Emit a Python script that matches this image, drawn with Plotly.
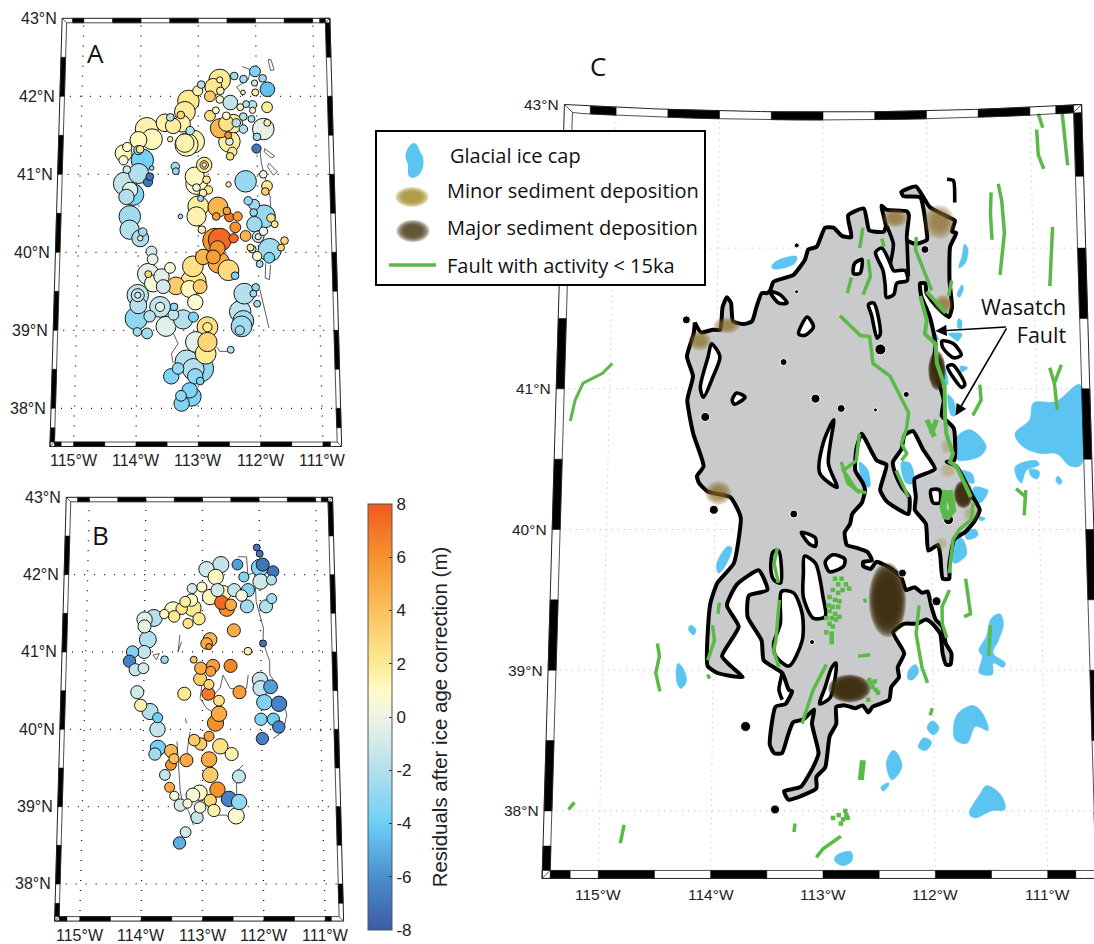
import numpy as np
import plotly.graph_objects as go

# ---------- residual points, panel A ----------
a_lon = [-112.02,-112.38,-112.22,-111.89,-112.03,-111.81,-112.02,-112.23,-112.63,-112.63,
 -112.74,-112.62,-112.80,-112.95,-113.01,-112.45,-112.63,-113.17,-113.23,-113.30,
 -113.48,-113.57,-113.43,-113.28,-111.82,-112.18,-112.07,-112.28,-112.07,-112.70,
 -112.80,-112.52,-112.23,-112.09,-112.35,-112.40,-112.63,-112.52,-112.23,-111.82,
 -111.89,-112.00,-112.49,-113.14,-113.88,-113.79,-114.02,-113.48,-113.09,-113.23,
 -113.20,-112.47,-112.47,-112.42,-112.46,-114.21,-114.27,-113.99,-112.01,-114.27,
 -113.95,-114.02,-113.39,-113.38,-113.79,-113.82,-113.85,-112.90,-112.90,-112.90,
 -111.90,-112.20,-112.49,-111.84,-111.87,-114.01,-114.21,-114.24,-114.15,-114.10,
 -114.21,-113.06,-113.03,-113.03,-112.86,-112.83,-112.92,-112.96,-112.67,-112.16,
 -112.06,-113.00,-113.03,-113.30,-112.52,-112.48,-112.34,-112.70,-111.90,-112.07,
 -111.78,-112.06,-111.72,-114.15,-112.94,-112.38,-114.15,-113.93,-111.91,-112.00,
 -112.00,-112.21,-112.41,-113.97,-113.97,-112.64,-112.72,-111.56,-112.13,-112.10,
 -111.81,-111.62,-112.68,-113.78,-112.92,-112.75,-112.66,-113.76,-112.02,-111.82,
 -113.09,-112.50,-111.98,-113.47,-113.83,-113.83,-113.61,-112.39,-113.08,-112.97,
 -113.37,-113.75,-113.15,-113.58,-112.24,-112.05,-112.09,-112.03,-113.05,-114.00,
 -114.00,-114.00,-113.63,-113.63,-113.40,-113.99,-113.80,-113.41,-112.31,-113.25,
 -113.08,-114.02,-113.53,-112.26,-112.29,-112.32,-112.85,-112.85,-114.00,-113.84,
 -112.85,-113.04,-112.88,-112.47,-113.19,-112.97,-113.08,-113.33,-113.44,-113.05,
 -112.97,-113.14,-113.11,-113.28,-113.27]
a_lat = [42.32,42.26,42.22,42.23,42.17,42.09,42.05,42.05,42.21,42.21,
 42.12,42.07,42.00,42.15,42.07,41.92,41.96,41.94,41.80,41.76,
 41.73,41.66,41.62,41.65,41.86,41.90,41.89,41.86,41.82,41.82,
 41.75,41.75,41.74,41.71,41.66,41.65,41.59,41.65,41.58,41.66,
 41.58,41.48,41.50,41.56,41.58,41.45,41.44,41.45,41.42,41.40,
 41.38,41.42,41.42,41.29,41.23,41.35,41.27,41.32,41.33,41.18,
 41.18,41.31,41.10,41.04,41.08,40.97,40.90,41.12,41.12,41.12,
 41.00,40.91,40.87,40.85,40.78,41.01,41.06,40.88,40.80,40.74,
 40.71,40.97,40.88,40.83,40.93,40.80,40.76,40.69,40.58,40.66,
 40.61,40.59,40.46,40.46,40.53,40.45,40.46,40.46,40.46,40.51,
 40.44,40.36,40.36,40.46,40.29,40.32,40.29,40.26,40.27,40.20,
 40.20,40.21,40.18,40.18,40.18,40.16,40.15,40.15,40.06,40.04,
 40.03,40.06,40.05,40.01,39.94,39.94,39.87,39.91,39.95,39.93,
 39.82,39.77,39.85,39.80,39.72,39.72,39.69,39.70,39.62,39.56,
 39.57,39.60,39.53,39.56,39.47,39.55,39.47,39.34,39.36,39.45,
 39.45,39.45,39.30,39.30,39.30,39.32,39.18,39.20,39.24,39.14,
 39.17,39.15,39.05,39.12,39.05,39.00,39.04,39.04,38.98,38.96,
 38.85,38.85,38.70,38.75,38.60,38.51,38.50,38.51,38.41,38.41,
 38.35,38.23,38.15,38.16,38.06]
a_val = [-3.5,-2.5,-2.5,-2.5,-1,-4.5,1.5,1.5,2,1,
 2.2,1.5,3.5,-2,1.5,-1.5,1,2,1.8,3,
 -2,1.5,1.8,1.5,2,-2,-2,1.5,1,1,
 2.5,1,-2,-2,-2,1.5,4.5,2.5,-2,1.5,
 -0.3,-2.5,6,-2,1.5,1.2,1.2,1.5,1.5,1.5,
 1.2,1.8,-0.5,2,2.5,0.8,1.2,2,-7,0.5,
 -3.8,-3.5,-2.5,-3,-3,-7,-7,1.8,2,1,
 0.3,-2.8,1.5,2,3.5,-2,-1,-1.5,-0.5,-3.5,
 -2,1.2,1,0.5,2,2,1.5,-3,4.5,-3,
 -2.5,1.8,1.5,-2.5,5.5,7,5.5,5.5,-2.8,-3,
 2.5,-2.5,2,-2.5,1.5,6,-2,-2.5,0,-1,
 -0.5,4.5,7.5,-2.2,0,7.5,5.8,3,2,-1.5,
 -2.5,3,6,-1,4.5,5.5,5,-0.3,1,-3.5,
 2.5,2.8,-2.5,0.5,-0.5,3,-0.5,-3.5,2.2,3.5,
 3.5,0.5,1.2,-1,-2,-3,-2.5,-2.5,0.8,-1.5,
 -1.5,-1,-1.5,-0.5,-3,-2,-2,-1.5,-1.5,-2,
 -3.5,-3,-0.5,-2.5,-2.5,-2.5,2.5,2,-2.5,-2.5,
 3,-0.3,2,-2,-1.8,-3,-2,-3,-3.5,-3,
 -3.5,-3.5,-3.5,-3,-3.5]
a_wt = [14,10,10,10,8,19,9,6,28,8,
 22,10,14,10,13,19,10,28,27,10,
 10,23,20,22,14,9,11,9,8,9,
 14,10,10,9,11,24,25,20,11,9,
 28,10,9,11,30,27,22,7,30,24,
 30,28,10,12,10,12,22,10,12,12,
 29,12,11,9,6,10,12,20,11,6,
 10,28,7,14,10,26,10,30,20,28,
 20,25,28,10,10,11,10,8,26,11,
 14,27,25,6,10,12,12,10,30,10,
 11,20,9,28,10,14,25,11,11,15,
 8,14,12,22,7,30,32,10,9,10,
 30,9,20,14,20,18,28,14,12,14,
 27,27,9,14,28,9,20,10,33,18,
 23,22,22,18,27,10,9,9,20,28,
 17,8,27,12,10,22,15,14,28,25,
 13,29,26,27,27,12,27,12,11,14,
 25,27,27,9,30,35,28,15,20,20,
 10,20,25,14,20]

# ---------- residual points, panel B ----------
b_lon = [-112.05,-112.00,-111.95,-112.00,-111.77,-112.39,-112.68,-112.93,-112.77,-112.28,
 -111.80,-111.99,-113.18,-113.01,-112.21,-112.74,-112.45,-112.87,-112.64,-112.32,
 -111.80,-113.19,-113.30,-111.90,-112.23,-112.67,-112.58,-112.51,-113.17,-113.36,
 -113.51,-113.66,-113.49,-113.84,-114.00,-114.00,-113.06,-113.25,-112.46,-113.94,
 -112.87,-112.93,-112.89,-111.96,-112.22,-114.00,-114.20,-114.25,-113.65,-113.15,
 -112.82,-112.52,-113.03,-112.86,-114.15,-114.01,-113.04,-112.02,-112.89,-111.84,
 -112.01,-112.37,-114.11,-113.31,-112.90,-112.72,-111.95,-111.70,-114.05,-113.89,
 -112.72,-113.76,-112.01,-111.80,-112.78,-111.71,-113.76,-112.89,-111.99,-113.14,
 -113.03,-112.70,-113.75,-113.80,-113.53,-113.48,-112.51,-113.27,-112.89,-113.53,
 -113.63,-112.87,-112.39,-113.55,-112.75,-113.05,-113.16,-113.47,-112.56,-112.39,
 -112.87,-113.37,-113.25,-113.04,-112.81,-112.44,-113.09,-113.28,-113.38]
b_lat = [42.35,42.27,42.13,42.09,42.04,42.13,42.13,42.07,41.97,41.97,
 41.93,41.91,41.82,41.84,41.80,41.80,41.80,41.71,41.76,41.73,
 41.69,41.67,41.65,41.59,41.59,41.64,41.56,41.61,41.57,41.56,
 41.54,41.49,41.46,41.44,41.42,41.33,41.43,41.37,41.28,41.16,
 41.16,41.11,41.07,41.11,41.01,41.00,41.00,40.88,40.90,40.90,
 40.82,40.82,40.79,40.75,40.77,40.79,40.65,40.64,40.58,40.55,
 40.53,40.48,40.48,40.46,40.46,40.37,40.35,40.33,40.31,40.23,
 40.20,40.15,40.13,40.13,40.08,40.03,40.00,39.91,39.88,39.86,
 39.81,39.78,39.76,39.68,39.72,39.62,39.68,39.60,39.61,39.54,
 39.41,39.41,39.39,39.25,39.22,39.18,39.15,39.14,39.10,39.06,
 39.08,39.02,39.04,38.99,38.95,38.88,38.86,38.67,38.53]
b_val = [-7,-7,-7,-3.5,-7,-5.5,-1.5,-1,1,-3.5,
 -2,-1,-1,1,-3.5,-1,-1.5,1.2,1.2,0.3,
 -2.5,1,1.8,-2,-2.5,7.5,6,5,2,2.2,
 1,1,2,-2,-0.5,-0.3,2,2.5,5,-2,
 4.5,5,6,-7,1.5,-1.5,-3.5,-6.5,-3,4,
 5.5,6.5,5,5.5,-1.5,-0.8,3.5,-1.5,3,-5.5,
 -1.5,5.5,-1,2,7,2.5,-3.5,-6.5,1.5,-2,
 5,-4,-3.5,-4,6,-6.5,-1.5,5.5,-6.5,3.5,
 3.5,2.5,-3.8,-2.5,4.5,4,1.5,5,5,6,
 -1.5,3.5,-1.5,5,6,1,0.5,0.5,-6.5,-3,
 3,-1,0.5,0.3,1.5,0.8,-1.5,-1,-5]
b_wt = [9,9,17,22,15,14,21,20,20,13,
 13,20,13,13,17,17,17,20,20,15,
 13,16,14,17,17,18,20,15,22,15,
 22,12,15,22,20,17,16,13,17,22,
 18,15,8,9,10,17,16,16,10,9,
 17,17,16,13,16,14,17,20,13,18,
 20,17,17,17,17,14,20,20,16,21,
 20,13,16,16,21,16,20,13,16,15,
 16,20,20,16,17,13,17,17,20,14,
 14,20,17,13,20,20,18,12,20,20,
 16,16,12,15,16,21,16,14,16]

# ---------- thin shoreline in panels A and B ----------
a_shore_lon = [[-111.79,-111.74,-111.69,-111.75,-111.79],[-111.95,-111.93,-111.88,-111.79,-111.78],
 [-111.87,-111.70,-111.76,-111.88,-111.87],[-111.80,-111.66,-111.73,-111.83,-111.80],
 [-111.88,-111.89,-111.82,-111.80],[-111.98,-111.90,-111.84],[-113.41,-113.33,-113.44,-113.41],
 [-112.70,-112.65,-112.48],[-112.24,-112.09,-112.14,-112.34,-112.23]]
a_shore_lat = [[42.47,42.47,42.34,42.33,42.47],[41.31,41.14,40.99,40.71,40.50],
 [41.33,41.23,41.21,41.29,41.33],[41.14,41.03,40.99,41.10,41.14],
 [39.86,39.67,39.65,39.84],[39.52,39.26,39.03],[38.96,38.83,38.70,38.58],
 [38.79,38.73,38.73],[42.38,42.34,42.21,42.12,42.00]]
b_shore_lon = [[-112.38,-112.23,-112.21,-112.09,-112.07,-111.95,-111.96,-111.85,-111.85,-111.76],
 [-112.22,-112.25,-112.31,-112.53,-112.65,-112.70,-112.82],[-112.99,-113.04,-112.93,-112.84],
 [-111.60,-111.57,-111.64,-111.81],[-113.43,-113.40,-113.37,-113.31],[-113.21,-113.26,-113.21],
 [-112.32,-112.43,-112.43,-112.37],[-112.52,-112.60,-112.77,-112.71],[-113.15,-113.23,-113.31],
 [-113.39,-113.42,-113.36],[-113.85,-113.74,-113.79,-113.85],[-113.29,-113.27]]
b_shore_lat = [[42.23,42.23,42.00,42.02,41.65,41.31,41.13,40.88,40.70,40.61],
 [40.70,40.53,40.51,40.53,40.70,40.53,40.44],[40.70,40.40,40.27,40.23],
 [40.27,40.19,39.97,39.88],[39.84,39.54,39.19,38.98],[39.97,39.71,39.58],
 [39.54,39.45,39.15,39.09],[38.81,38.89,38.89,38.98],[38.76,38.94,39.02],
 [41.22,41.00,41.13],[40.96,40.98,40.90,40.96],[40.14,40.08]]

# ---------- panel C: lake ----------
lake_lon = [-114.21,-114.15,-114.04,-113.97,-113.95,-113.91,-113.87,-113.85,-113.75,-113.67,-113.63,-113.58,-113.53,
 -113.50,-113.47,-113.28,-113.17,-113.14,-113.06,-112.98,-112.90,-112.82,-112.73,-112.76,-112.61,-112.56,-112.50,-112.42,
 -112.40,-112.44,-112.39,-112.20,-112.18,-112.20,-112.12,-112.01,-112.01,-112.07,-112.23,-112.25,-112.11,-111.98,-111.79,
 -111.74,-111.77,-111.73,-111.79,-111.80,-111.78,-111.81,-111.92,-112.02,-112.03,-112.08,-112.07,-111.99,-111.94,-111.96,
 -111.87,-111.89,-111.78,-111.78,-111.85,-111.76,-111.61,-111.55,-111.60,-111.69,-111.79,-111.84,-111.84,-111.90,-111.92,
 -111.94,-112.03,-112.05,-112.15,-112.14,-112.15,-111.96,-112.07,-112.16,-112.24,-112.27,-112.35,-112.33,-112.27,-112.20,
 -112.21,-112.41,-112.47,-112.41,-112.50,-112.64,-112.69,-112.70,-112.63,-112.61,-112.64,-112.73,-112.75,-112.80,-112.78,
 -112.69,-112.59,-112.55,-112.63,-112.63,-112.56,-112.51,-112.39,-112.28,-112.24,-112.16,-112.09,-112.04,-112.01,-111.97,
 -111.91,-111.88,-111.83,-111.84,-111.88,-111.91,-111.93,-112.00,-112.06,-112.14,-112.26,-112.36,-112.26,-112.32,-112.31,
 -112.38,-112.40,-112.55,-112.59,-112.64,-112.71,-112.80,-112.88,-112.88,-112.94,-112.98,-113.06,-113.06,-113.31,-113.35,
 -113.20,-113.09,-113.04,-113.10,-113.08,-113.18,-113.27,-113.32,-113.37,-113.44,-113.48,-113.43,-113.34,-113.28,-113.31,
 -113.37,-113.54,-113.56,-113.69,-113.68,-113.51,-113.59,-113.79,-113.88,-113.77,-113.92,-113.84,-113.73,-113.96,-114.05,
 -114.05,-114.03,-113.97,-113.82,-113.76,-113.80,-113.86,-114.07,-114.15,-114.17,-114.11,-114.21,-114.27,-114.22,-114.28,
 -114.22,-114.21]
lake_lat = [41.47,41.40,41.42,41.42,41.58,41.65,41.61,41.48,41.46,41.48,41.58,41.68,41.68,
 41.70,41.76,41.81,41.92,41.99,42.01,42.15,42.15,42.09,42.08,42.24,42.29,42.13,42.12,42.12,
 42.16,42.31,42.28,42.27,42.24,42.06,42.03,42.06,42.11,42.37,42.38,42.41,42.45,42.30,42.22,
 42.20,42.12,42.11,42.01,41.77,41.58,41.51,41.58,41.68,41.75,41.75,41.66,41.51,41.32,41.18,
 40.92,40.81,40.72,40.49,40.48,40.45,40.23,40.14,40.06,39.98,39.93,39.74,39.65,39.65,39.81,
 39.89,39.85,40.04,40.14,40.23,40.36,40.43,40.57,40.70,40.67,40.57,40.48,40.40,40.30,40.23,
 40.11,40.20,40.28,40.46,40.49,40.68,40.57,40.42,40.33,40.28,40.19,40.11,40.04,39.98,39.89,
 39.87,39.84,39.78,39.77,39.74,39.72,39.77,39.73,39.66,39.57,39.59,39.55,39.56,39.46,39.36,
 39.31,39.19,39.12,39.04,39.04,39.12,39.26,39.33,39.36,39.33,39.33,39.27,39.12,39.02,38.95,
 38.88,38.79,38.74,38.70,38.75,38.73,38.75,38.74,38.62,38.53,38.31,38.24,38.16,38.08,38.14,
 38.17,38.31,38.41,38.62,38.72,38.65,38.63,38.53,38.41,38.41,38.47,38.74,38.76,38.85,38.86,
 38.98,39.07,39.21,39.38,39.53,39.57,39.71,39.61,39.46,39.31,39.10,39.03,38.95,38.98,39.03,
 39.31,39.48,39.62,39.76,40.08,40.16,40.23,40.27,40.33,40.38,40.45,40.68,40.92,41.09,41.23,
 41.39,41.47]

isle_lon = [[-113.38,-113.27,-113.19,-113.19,-113.31,-113.43,-113.45,-113.39],
 [-113.17,-113.07,-113.00,-112.98,-113.09,-113.18,-113.18],
 [-113.46,-113.41,-113.39,-113.45,-113.48],
 [-112.98,-112.91,-112.80,-112.81,-112.94],
 [-113.20,-113.07,-113.07,-113.13],
 [-114.05,-113.97,-114.03,-114.12,-114.15,-114.08],
 [-113.15,-113.09,-113.17,-113.23],
 [-113.81,-113.73,-113.83,-113.85],
 [-112.57,-112.52,-112.46,-112.49,-112.54],
 [-112.90,-113.00,-113.03,-112.87,-112.95],
 [-112.70,-112.63,-112.65,-112.71],
 [-112.50,-112.44,-112.36,-112.33,-112.22,-112.20,-112.30,-112.33,-112.40,-112.41,-112.43],
 [-111.88,-111.77,-111.70,-111.77,-111.87],
 [-111.83,-111.78,-111.67,-111.70],
 [-113.50,-113.41,-113.34,-113.42],
 [-112.00,-111.92,-111.92,-111.98],
 [-113.03,-112.98,-112.92,-112.88,-112.91,-112.94]]
isle_lat = [[39.56,39.55,39.40,39.21,39.03,39.10,39.19,39.33],
 [39.81,39.76,39.52,39.38,39.37,39.52,39.69],
 [39.84,39.85,39.62,39.64,39.72],
 [39.77,39.82,39.79,39.74,39.70],
 [39.98,39.94,39.88,39.90],
 [41.32,41.23,41.09,40.94,41.01,41.23],
 [41.51,41.44,41.38,41.39],
 [40.97,40.94,40.89,40.92],
 [41.60,41.61,41.39,41.36,41.52],
 [40.78,40.61,40.40,40.30,40.47],
 [41.89,41.92,41.82,41.82],
 [41.97,42.00,41.89,41.84,41.84,41.77,41.75,41.67,41.65,41.73,41.84],
 [41.34,41.32,41.24,41.22,41.29],
 [41.16,41.17,41.03,41.01],
 [41.69,41.67,41.61,41.61],
 [40.28,40.28,40.19,40.19],
 [38.76,38.88,39.02,39.05,38.86,38.80]]

ridge_lon = [[-113.37,-113.40,-113.37],[-112.39,-112.33,-112.36],[-112.20,-112.19],[-111.81,-111.75,-111.74]]
ridge_lat = [[38.98,38.86,38.79],[42.16,42.03,41.89],[42.06,41.80],[42.50,42.49,42.33]]

dot_lon = [-114.10,-113.37,-113.07,-114.29,-113.25,-113.25,-112.83,-112.51,-112.22,-112.46,-112.03,
 -113.70,-113.43,-113.27,-113.10,-112.27,-111.96,-111.84,-114.01]
dot_lat = [40.80,41.19,40.93,41.49,42.02,41.69,40.86,40.85,40.96,41.28,41.99,
 38.60,38.01,40.11,39.20,39.69,39.49,40.07,40.14]
dot_wt = [9,7,9,8,5,4,8,4,6,11,8,10,9,8,5,8,9,10,9]

# ---------- panel C: ice caps ----------
ice_lon = [[-113.49,-113.41,-113.25,-113.27,-113.46],[-111.65,-111.62,-111.65,-111.71,-111.68],
 [-111.68,-111.67,-111.71,-111.73],[-111.72,-111.69,-111.70,-111.73],[-111.82,-111.69,-111.73,-111.79],
 [-112.01,-111.96,-111.91,-111.97],[-111.91,-111.86,-111.83,-111.87],[-111.71,-111.64,-111.70],
 [-111.83,-111.78,-111.76,-111.80],
 [-111.21,-111.07,-111.03,-110.82,-110.59,-110.60,-110.70,-110.83,-110.98,-111.14],
 [-111.21,-111.02,-110.99,-111.11,-111.16,-111.21],[-111.08,-110.99,-111.01,-111.07],
 [-110.82,-110.78,-110.81,-110.84],[-111.77,-111.63,-111.48,-111.54,-111.73,-111.77],
 [-111.75,-111.62,-111.60,-111.69],[-112.66,-112.58,-112.57,-112.63],[-112.27,-112.19,-112.16,-112.23],
 [-111.60,-111.49,-111.55,-111.61],[-111.58,-111.47,-111.54,-111.60],[-111.56,-111.50,-111.54],
 [-111.69,-111.59,-111.57,-111.67],[-111.76,-111.71,-111.68,-111.79,-111.82],
 [-113.88,-113.84,-113.90,-113.96,-113.98],[-114.21,-114.16,-114.18,-114.23],
 [-114.32,-114.27,-114.24,-114.29,-114.33],[-112.16,-112.13,-112.19,-112.23,-112.22],
 [-111.38,-111.35,-111.40,-111.45,-111.34,-111.36,-111.45,-111.46,-111.58,-111.55,-111.58,-111.51,-111.46],
 [-111.65,-111.58,-111.51,-111.51,-111.62,-111.70,-111.81,-111.79],[-112.01,-111.95,-112.00,-112.06],
 [-112.09,-112.02,-112.07,-112.14],[-112.37,-112.33,-112.29,-112.38,-112.43],[-112.41,-112.41,-112.46,-112.48],
 [-111.53,-111.40,-111.37,-111.49,-111.64,-111.69,-111.59],[-112.75,-112.74,-112.82,-112.90,-112.87]]
ice_lat = [[41.87,41.92,41.94,41.89,41.85],[42.03,41.99,41.89,41.86,41.94],
 [41.74,41.71,41.65,41.67],[41.50,41.48,41.42,41.44],[41.39,41.39,41.34,41.37],
 [41.44,41.42,41.35,41.37],[41.22,41.16,41.03,41.03],[41.16,41.15,41.12],
 [40.96,40.92,40.81,40.81],
 [40.68,40.78,40.90,40.91,41.03,40.46,40.45,40.54,40.54,40.59],
 [40.45,40.49,40.46,40.42,40.33,40.39],[40.43,40.41,40.36,40.38],
 [40.38,40.34,40.32,40.35],[40.64,40.71,40.59,40.52,40.49,40.51],
 [40.42,40.40,40.33,40.35],[40.48,40.42,40.30,40.33],[40.48,40.47,40.33,40.33],
 [40.30,40.28,40.21,40.23],[40.28,40.28,40.19,40.20],[40.09,40.08,40.06],
 [39.98,40.00,39.96,39.93],[39.95,39.93,39.82,39.76,39.81],
 [39.88,39.87,39.74,39.69,39.75],[39.32,39.29,39.25,39.29],
 [39.05,39.01,38.92,38.87,38.92],[39.04,38.99,38.93,38.94,39.00],
 [39.40,39.33,39.21,39.12,39.05,39.02,39.05,38.97,38.98,39.10,39.14,39.24,39.37],
 [38.75,38.72,38.61,38.57,38.60,38.48,38.51,38.68],[38.64,38.59,38.54,38.59],
 [38.52,38.49,38.43,38.45],[38.43,38.41,38.31,38.22,38.34],[38.20,38.18,38.14,38.17],
 [38.18,38.11,38.01,38.00,37.95,37.98,38.12],[37.71,37.65,37.61,37.65,37.69]]

# ---------- panel C: faults younger than 15 ka ----------
fault_lon = [[-110.92,-110.88],[-110.94,-110.93,-110.88],[-110.69,-110.65],[-111.39,-111.40,-111.39],
 [-111.32,-111.29,-111.27,-111.32],[-110.81,-110.85],[-110.87,-110.83],[-110.76,-110.83,-110.81],
 [-111.53,-111.52,-111.60],[-112.62,-112.65],[-112.57,-112.55,-112.62],[-112.73,-112.77],[-112.44,-112.42],
 [-112.11,-112.12,-111.97],[-111.78,-111.81],[-112.02,-111.84],
 [-112.84,-112.65,-112.56,-112.53,-112.37,-112.20,-112.22,-112.27,-112.22,-112.27],
 [-112.08,-112.02,-112.04,-111.94,-111.93,-111.86,-111.86,-111.85,-111.79,-111.82,-111.76,-111.63],
 [-112.03,-111.96],[-111.94,-111.99],[-112.66,-112.69,-112.81,-112.69,-112.60],[-112.83,-112.77,-112.66],
 [-112.32,-112.21],[-111.21,-111.12],[-111.12,-111.14],[-111.86,-111.89,-111.86,-111.80,-111.83],
 [-111.61,-111.63,-111.74,-111.80,-111.84],[-113.42,-113.45,-113.41],[-113.40,-113.43,-113.45,-113.40],
 [-113.95,-113.96],[-114.01,-113.99,-114.05],[-114.05,-114.03],[-112.97,-113.09,-113.19],
 [-111.84,-111.91,-111.91,-111.87],[-112.12,-112.15,-112.10,-112.05],[-111.69,-111.65,-111.71],
 [-111.47,-111.49],[-112.64,-112.66],[-112.01,-112.03],[-113.25,-113.26],[-112.84,-113.00,-113.06],
 [-112.60,-112.63],[-112.68,-112.57],[-114.51,-114.49,-114.52,-114.48],[-115.23,-115.28],
 [-114.78,-114.81],[-114.98,-115.07,-115.25,-115.32,-115.36]]
fault_lat = [[42.95,42.85],[42.84,42.66,42.56],[42.95,42.58],[42.40,42.25,42.06],
 [42.46,42.34,42.11,41.81],[42.15,41.73],[41.15,41.04],[41.17,41.04,40.85],
 [41.03,40.92,40.81],[42.15,42.00],[41.92,41.80,41.67],[41.79,41.68],[42.07,42.01],
 [42.08,41.99,41.70],[41.77,41.66],[41.69,41.54],
 [41.52,41.38,41.37,41.18,41.09,40.83,40.72,40.61,40.54,40.49],
 [41.66,41.49,41.39,41.32,41.18,41.02,40.80,40.68,40.54,40.48,40.45,40.23],
 [40.78,40.66],[40.78,40.68],[40.68,40.49,40.42,40.28,40.26],[40.48,40.33,40.26],
 [40.42,40.23],[40.29,40.23],[40.28,40.10],[40.28,40.16,40.08,40.14,40.28],
 [40.19,40.07,40.00,39.93,39.69],[39.87,39.76,39.62],[39.50,39.21,39.14,39.02],
 [39.48,39.40],[39.32,39.21,39.07],[38.97,38.94],[39.04,38.86,38.62],
 [39.57,39.45,39.33,39.23],[39.46,39.26,39.02,38.91],[39.65,39.40,39.38],
 [39.32,39.10],[38.36,38.22],[38.73,38.68],[37.91,37.85],[37.82,37.73,37.67],
 [39.50,39.49],[39.10,39.11],[39.19,39.10,38.98,38.85],[38.06,38.01],
 [37.90,37.77],[41.18,41.11,41.04,40.92,40.77]]
fault_wt = [3.5]*len(fault_lon)
for i,w in {15:4,17:4,18:5,19:5,25:7,37:6,41:4,46:3}.items():
    fault_wt[i] = w

# short fault traces too small to read as lines
stip_lon = [-112.89,-112.83,-112.79,-112.76,-112.86,-112.82,-112.91,-112.86,-112.94,-112.89,-112.85,-112.95,-112.91,-112.86,
 -112.94,-112.89,-112.85,-112.97,-112.92,-112.88,-112.94,-112.91,-112.97,-112.92,-112.92,-112.92,
 -112.53,-112.55,-112.52,-112.56,-112.50,-112.59,-112.58,-112.91,-112.86,-112.82,-112.79,-112.80,-112.84,-112.78]
stip_lat = [39.65,39.65,39.61,39.58,39.61,39.57,39.57,39.55,39.52,39.50,39.49,39.46,39.45,39.45,
 39.42,39.40,39.38,39.37,39.37,39.36,39.33,39.31,39.27,39.26,39.23,39.20,
 38.92,38.88,38.86,38.91,38.84,38.79,38.93,37.95,37.97,37.94,37.97,38.00,37.91,37.95]

# ---------- panel C: sediment deposition ----------
minor_lon = [-113.91,-114.16,-113.97,-112.31,-111.89,-111.86]
minor_lat = [41.45,41.34,40.26,42.22,42.19,41.60]
minor_rx = [.11,.095,.11,.11,.13,.08]
minor_ry = [.05,.06,.075,.06,.11,.06]
pale_lon = [-111.84,-111.85,-111.63,-111.91]
pale_lat = [40.42,40.59,40.11,39.90]
pale_rx = [.07,.05,.07,.06]
pale_ry = [.05,.05,.06,.04]
major_lon = [-111.93,-111.70,-112.41,-112.76]
major_lat = [41.13,40.25,39.50,38.87]
major_rx = [.07,.075,.145,.165]
major_ry = [.12,.085,.225,.085]

# ---------- labels ----------
lon_ticks = [-115,-114,-113,-112,-111]
lat_ticks = [38,39,40,41,42,43]
cbar_ticks = [-8,-6,-4,-2,0,2,4,6,8]
legend_labels = ["Glacial ice cap","Minor sediment deposition","Major sediment deposition","Fault with activity < 15ka"]
cbar_title = "Residuals after ice age correction (m)"

# ---------- projection of each map onto the page axes ----------
PANEL = {
 "A": dict(x0=198.3,dx=59.83,k=.933,y0=252.3,dy=78.0,L=-115.38,R=-110.70,B=37.51,T=43.0,w=4.5,e=.18,curve=0),
 "B": dict(x0=202.5,dx=59.0,k=.88,y0=729.3,dy=77.33,L=-115.41,R=-110.70,B=37.52,T=43.0,w=4.5,e=.2,curve=0),
 "C": dict(x0=823.,dx=108.,k=1.63,y0=529.5,dy=140.7,L=-115.5,R=-110.5,B=37.52,T=43.0,w=8,e=.25,curve=1),
}
def proj(p, lon, lat):
    lon = np.asarray(lon,float); lat = np.asarray(lat,float)
    dl = lon+113
    x = p["x0"]+dl*(p["dx"]-p["k"]*(lat-40.2))
    y = p["y0"]-(lat-40)*p["dy"]
    if p["curve"]:
        y = y+np.clip(lat-42,0,None)*(4.6-1.2*dl**2)
    return x,y

def join(xs,ys,close=False):
    X,Y=[],[]
    for a,b in zip(xs,ys):
        a,b=list(a),list(b)
        if close: a,b=a+a[:1],b+b[:1]
        X+=a+[None]; Y+=b+[None]
    return X,Y

fig = go.Figure()

def add_poly(p,lons,lats,fill=None,line=None,width=0,shape="linear",smooth=None,close=True):
    xs,ys=[],[]
    for a,b in zip(lons,lats):
        x,y=proj(p,a,b); xs.append(x.tolist()); ys.append(y.tolist())
    X,Y=join(xs,ys,close)
    ln=dict(color=line or "rgba(0,0,0,0)",width=width,shape=shape)
    if smooth: ln["smoothing"]=smooth
    fig.add_trace(go.Scatter(x=X,y=Y,mode="lines",line=ln,fill="toself" if fill else None,fillcolor=fill,hoverinfo="skip",showlegend=False,connectgaps=False))

def grid(p,color,dash,width):
    for lon in lon_ticks:
        la=np.linspace(p["B"],p["T"],30); x,y=proj(p,np.full(30,lon),la)
        fig.add_trace(go.Scatter(x=x,y=y,mode="lines",line=dict(color=color,dash=dash,width=width),hoverinfo="skip",showlegend=False))
    for lat in lat_ticks[:-1]:
        lo=np.linspace(p["L"],p["R"],30); x,y=proj(p,lo,np.full(30,lat))
        fig.add_trace(go.Scatter(x=x,y=y,mode="lines",line=dict(color=color,dash=dash,width=width),hoverinfo="skip",showlegend=False))

def frame(p):
    L,R,B,T,w,e=p["L"],p["R"],p["B"],p["T"],p["w"],p["e"]
    def band(side,a,b):
        s=np.linspace(a,b,12)
        if side=="T":
            x,y=proj(p,s,np.full(12,T)); xi,yi=x,y+w
        elif side=="Bt":
            x,y=proj(p,s,np.full(12,B)); xi,yi=x,y-w
        elif side=="L":
            x,y=proj(p,np.full(12,L),s); xi,yi=x+w,y
        else:
            x,y=proj(p,np.full(12,R),s); xi,yi=x-w,y
        return list(x)+list(xi[::-1]),list(y)+list(yi[::-1])
    segs=[]
    top=[(L+e,-115),(-114.5,-114),(-113.5,-113),(-112.5,-112),(-111.5,-111),(R-e,R)]
    bot=[(L,L+e),(-115,-114.5),(-114,-113.5),(-113,-112.5),(-112,-111.5),(-111,R-e)]
    left=[(42,42.5),(41,41.5),(40,40.5),(39,39.5),(38,38.5),(B,37.75)]
    right=[(42.5,43),(41.5,42),(40.5,41),(39.5,40),(38.5,39),(37.75,38)]
    for a,b in top: segs.append(band("T",a,b))
    for a,b in bot: segs.append(band("Bt",a,b))
    for a,b in left: segs.append(band("L",a,b))
    for a,b in right: segs.append(band("R",a,b))
    X,Y=join([s[0] for s in segs],[s[1] for s in segs],True)
    fig.add_trace(go.Scatter(x=X,y=Y,mode="lines",fill="toself",fillcolor="black",line=dict(color="black",width=.5),hoverinfo="skip",showlegend=False))
    n=30
    lo=np.linspace(L,R,n); la=np.linspace(T,B,n)
    tx,ty=proj(p,lo,np.full(n,T)); rx,ry=proj(p,np.full(n,R),la); bx,by=proj(p,lo[::-1],np.full(n,B)); lx,ly=proj(p,np.full(n,L),la[::-1])
    ox=list(tx)+list(rx)+list(bx)+list(lx); oy=list(ty)+list(ry)+list(by)+list(ly)
    fig.add_trace(go.Scatter(x=ox,y=oy,mode="lines",line=dict(color="#222",width=1),hoverinfo="skip",showlegend=False))
    # inner rim, with the short mitres at the four corners
    keep=(tx>=lx[-1]+w)&(tx<=rx[0]-w)
    ix=[lx[-1]+w]+list(tx[keep])+[rx[0]-w]+[rx[-1]-w]+list(bx[(bx<=rx[-1]-w)&(bx>=lx[0]+w)])+[lx[0]+w]+[lx[-1]+w]
    iy=[ty[0]+w]+list(ty[keep]+w)+[ty[-1]+w]+[by[0]-w]+list(by[(bx<=rx[-1]-w)&(bx>=lx[0]+w)]-w)+[by[-1]-w]+[ty[0]+w]
    fig.add_trace(go.Scatter(x=ix,y=iy,mode="lines",line=dict(color="#222",width=.8),hoverinfo="skip",showlegend=False))
    mx,my=[],[]
    for (ax,ay,bx2,by2) in [(tx[0],ty[0],tx[0]+w,ty[0]+w),(tx[-1],ty[-1],tx[-1]-w,ty[-1]+w),(rx[-1],ry[-1],rx[-1]-w,ry[-1]-w),(lx[0],ly[0],lx[0]+w,ly[0]-w)]:
        mx+=[ax,bx2,None]; my+=[ay,by2,None]
    fig.add_trace(go.Scatter(x=mx,y=my,mode="lines",line=dict(color="#222",width=.8),hoverinfo="skip",showlegend=False))

annots=[]
def labels(p,size,lats,down,gap=3):
    for lon in lon_ticks:
        x,y=proj(p,lon,p["B"])
        annots.append(dict(x=float(x),y=float(y)+down,text=f"{abs(lon)}\u00b0W",showarrow=False,xanchor="center",yanchor="middle",font=dict(size=size,family="Liberation Sans",color="#222")))
    for lat in lats:
        x,y=proj(p,p["L"],lat)
        annots.append(dict(x=float(x)-gap,y=float(y),text=f"{lat}\u00b0N",showarrow=False,xanchor="right",yanchor="middle",font=dict(size=size,family="Liberation Sans",color="#222")))

def panel_points(p,lon,lat,val,wt,shore_lon,shore_lat):
    grid(p,"#111","1px,9px",1.3)
    add_poly(p,shore_lon,shore_lat,line="#333",width=.8,close=False)
    o=np.argsort(-np.asarray(wt),kind="stable")
    x,y=proj(p,np.asarray(lon)[o],np.asarray(lat)[o])
    fig.add_trace(go.Scatter(x=x,y=y,mode="markers",hoverinfo="skip",showlegend=False,
        marker=dict(size=np.asarray(wt)[o]*.77,sizemode="diameter",color=np.asarray(val)[o],coloraxis="coloraxis",
                    line=dict(color="#1a1a1a",width=1),opacity=1)))
    frame(p)

assert len(a_lon)==len(a_lat)==len(a_val)==len(a_wt)
assert len(b_lon)==len(b_lat)==len(b_val)==len(b_wt)
assert len(stip_lon)==len(stip_lat)
panel_points(PANEL["A"],a_lon,a_lat,a_val,a_wt,a_shore_lon,a_shore_lat)
panel_points(PANEL["B"],b_lon,b_lat,b_val,b_wt,b_shore_lon,b_shore_lat)
labels(PANEL["A"],16,lat_ticks,14)
labels(PANEL["B"],16,lat_ticks,14)

# panel C
pc=PANEL["C"]
grid(pc,"#b5b5b5","1px,5px",1)
add_poly(pc,ice_lon,ice_lat,fill="#5bc4f1",line="#5bc4f1",width=.5,shape="spline",smooth=1.0)
add_poly(pc,[lake_lon],[lake_lat],fill="#c9cacb",line="black",width=4,shape="spline",smooth=.5)
add_poly(pc,isle_lon,isle_lat,fill="white",line="black",width=3.6,shape="spline",smooth=.8)
add_poly(pc,ridge_lon,ridge_lat,line="black",width=3.6,shape="spline",smooth=.6,close=False)
x,y=proj(pc,dot_lon,dot_lat)
fig.add_trace(go.Scatter(x=x,y=y,mode="markers",marker=dict(size=np.asarray(dot_wt),color="black",opacity=1),hoverinfo="skip",showlegend=False))

def blobs(lon,lat,rx,ry,rgb,alpha,levels):
    t=np.linspace(0,2*np.pi,32)
    for f in levels:
        xs,ys=[],[]
        for a,b,c,d in zip(lon,lat,rx,ry):
            px,py=proj(pc,a+f*c*np.cos(t),b+f*d*np.sin(t))
            xs.append(px.tolist()); ys.append(py.tolist())
        X,Y=join(xs,ys)
        fig.add_trace(go.Scatter(x=X,y=Y,mode="lines",fill="toself",fillcolor=f"rgba({rgb},{alpha})",line=dict(width=0,color="rgba(0,0,0,0)"),hoverinfo="skip",showlegend=False))
blobs(minor_lon,minor_lat,minor_rx,minor_ry,"140,105,35",.13,(1.15,1.08,1.0,.92,.84,.76,.68,.6,.5))
blobs(pale_lon,pale_lat,pale_rx,pale_ry,"170,135,70",.08,(1.1,1.0,.9,.8,.7,.6))
blobs(major_lon,major_lat,major_rx,major_ry,"62,46,16",.3,(1.18,1.13,1.08,1.03,.98,.93,.88,.82,.75,.65))

for a,b,w in zip(fault_lon,fault_lat,fault_wt):
    x,y=proj(pc,a,b)
    fig.add_trace(go.Scatter(x=x,y=y,mode="lines",line=dict(color="#5ab947",width=w),hoverinfo="skip",showlegend=False))
x,y=proj(pc,stip_lon,stip_lat)
fig.add_trace(go.Scatter(x=x,y=y,mode="markers",marker=dict(symbol="square",size=4.5,color="#5ab947",opacity=1),hoverinfo="skip",showlegend=False))
frame(pc)
labels(pc,15.5,[38,39,40,41,43],16)

# Wasatch Fault arrows
tx_,ty_=proj(pc,-111.26,41.44)
for hlon,hlat in [(-111.94,41.41),(-111.76,40.81)]:
    hx,hy=proj(pc,hlon,hlat)
    annots.append(dict(x=float(hx),y=float(hy),ax=float(tx_),ay=float(ty_),axref="x",ayref="y",xref="x",yref="y",text="",showarrow=True,arrowhead=2,arrowsize=1.4,arrowwidth=1.6,arrowcolor="black"))
annots.append(dict(x=1068,y=320,text="Wasatch<br>Fault",align="right",xanchor="right",yanchor="middle",showarrow=False,font=dict(size=21.5,family="Open Sans",color="#111")))
for t,xx,yy in [("A",95,53),("B",100,535),("C",598,66)]:
    annots.append(dict(x=xx,y=yy,text=t,showarrow=False,font=dict(size=26,family="Open Sans",color="#111")))

# legend box, drawn over the map frame
shapes=[dict(type="rect",x0=376,y0=131,x1=705,y1=285,line=dict(color="black",width=2),fillcolor="white",layer="above",xref="x",yref="y")]
shapes.append(dict(type="path",path="M 413 143 C 419 143 418 150 422 155 C 426 163 422 178 412 178 C 405 176 410 168 407 162 C 403 154 408 146 413 143 Z",fillcolor="#5bc4f1",line=dict(width=0),layer="above",xref="x",yref="y"))
for f in (1.1,1,.9,.8,.7,.6):
    shapes.append(dict(type="circle",x0=412-15*f,x1=412+15*f,y0=197-9*f,y1=197+9*f,fillcolor="rgba(165,145,50,.3)",line=dict(width=0),layer="above",xref="x",yref="y"))
    shapes.append(dict(type="circle",x0=413-15*f,x1=413+15*f,y0=231-10*f,y1=231+10*f,fillcolor="rgba(80,65,30,.3)",line=dict(width=0),layer="above",xref="x",yref="y"))
shapes.append(dict(type="line",x0=389,y0=265,x1=436,y1=265,line=dict(color="#5ab947",width=3.5),layer="above",xref="x",yref="y"))
for t,xx,yy in zip(legend_labels,[448,445,445,445],[155,190,227,265]):
    annots.append(dict(x=xx,y=yy,text=t,showarrow=False,xanchor="left",font=dict(size=20,family="Open Sans",color="#111")))

fig.update_layout(
    width=1094,height=944,margin=dict(l=0,r=0,t=0,b=0),paper_bgcolor="white",plot_bgcolor="white",
    xaxis=dict(range=[0,1094],visible=False,fixedrange=True),
    yaxis=dict(range=[944,0],visible=False,fixedrange=True),
    annotations=annots,shapes=shapes,showlegend=False,
    coloraxis=dict(cmin=-8,cmax=8,
        colorscale=[[0,"#3b5ba5"],[.125,"#4a8fcf"],[.25,"#6dcff6"],[.375,"#b4dfec"],[.5,"#eef4e6"],[.5625,"#fffbc8"],[.625,"#fdeb94"],[.75,"#fbc15e"],[.875,"#f6922b"],[1,"#f15a22"]],
        colorbar=dict(x=368/1094,xanchor="left",y=1-504/944,yanchor="top",lenmode="pixels",len=426,thicknessmode="pixels",thickness=24,
            xpad=0,ypad=0,outlinecolor="#555",outlinewidth=1,tickmode="array",tickvals=cbar_ticks,
            ticktext=[f"{v}\u00a0\u00a0\u00a0" for v in cbar_ticks],ticks="inside",ticklen=3,tickcolor="#333",
            tickfont=dict(size=17,family="Liberation Sans",color="#222"),
            title=dict(text=cbar_title,side="right",font=dict(size=20.5,family="Liberation Sans",color="#222")))),
)
fig.write_html("out.html",config={"displayModeBar":False},post_script="document.body.style.margin='0';document.body.style.overflow='hidden';")
